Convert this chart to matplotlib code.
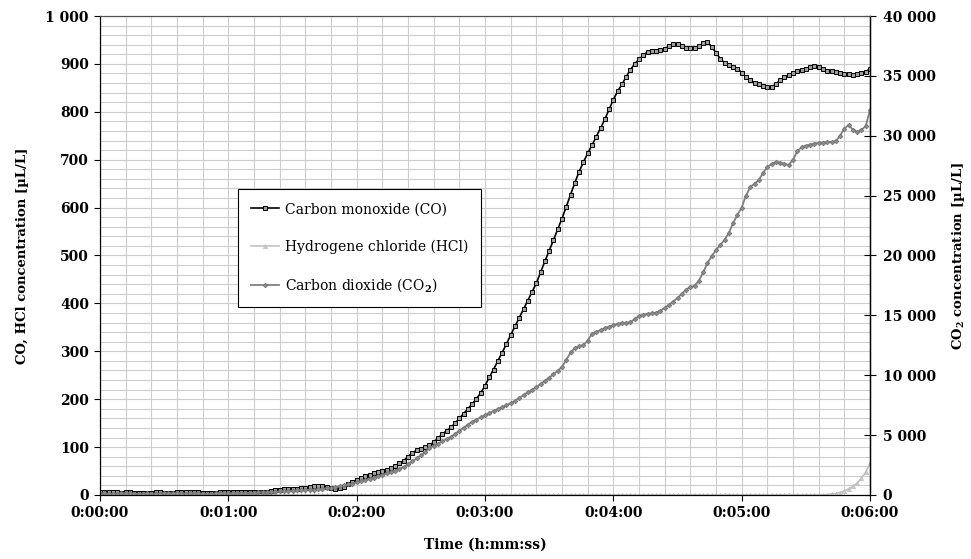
import numpy as np
import matplotlib
matplotlib.use("Agg")
import matplotlib.pyplot as plt
from matplotlib.ticker import MultipleLocator, FuncFormatter

plt.rcParams['font.family'] = 'DejaVu Serif'
plt.rcParams['font.weight'] = 'bold'
plt.rcParams['mathtext.fontset'] = 'dejavuserif'

step = 2  # seconds between readings

# CO [uL/L], left axis
co = [6, 6, 7, 6, 6, 5, 6, 6, 5, 5, 5, 5, 5, 6, 6, 5, 5, 5, 6, 7, 7, 7, 6, 6, 5, 5, 5, 5, 6, 6, 7,
      6, 6, 6, 7, 7, 6, 6, 6, 7, 8, 10, 11, 12, 12, 12, 13, 14, 15, 17, 19,
      19, 19, 17, 15, 13, 14, 17, 22, 27, 32,
      36, 39, 42, 45, 47, 50, 52, 56, 61, 66, 72, 80, 88, 93, 96, 100, 104, 110, 119, 127,
      134, 141, 150, 160, 170, 180, 190, 201, 213, 228,
      246, 262, 280, 297, 315, 334, 352, 370, 388, 406, 424, 442, 465, 488, 510,
      532, 555, 577, 602, 627, 652, 675, 695, 713, 730,
      748, 766, 784, 805, 825, 843, 857, 873, 888, 900,
      910, 918, 925, 927, 927, 928, 932, 937, 941, 941,
      937, 933, 933, 934, 937, 944, 945, 936, 923, 911,
      902, 897, 894, 890, 882, 873, 866, 861, 857, 854,
      851, 852, 858, 866, 872, 876, 881, 885, 888, 890,
      893, 896, 894, 889, 886, 885, 884, 882, 879, 878,
      877, 878, 881, 884, 890]

# HCl [uL/L], left axis
hcl = [0] * 169 + [0.5, 1, 2, 3, 5, 8, 13, 18, 25, 35, 48, 66]

# CO2 [uL/L], right axis
co2 = [120, 130, 120, 110, 120, 130, 140, 130, 120, 110, 120, 130, 120, 110, 120, 130,
       140, 150, 140, 130, 120, 130, 140, 130, 120, 110, 120, 130, 140, 150, 140,
       150, 160, 170, 180, 190, 200, 210, 220, 240, 260, 280, 300, 320, 340, 360, 380, 400, 420, 440, 450,
       480, 520, 560, 600, 660, 720, 800, 880, 960, 1050,
       1150, 1250, 1350, 1450, 1560, 1680, 1800, 1920, 2040, 2170,
       2350, 2550, 2800, 3050, 3300, 3600, 3900, 4110, 4290, 4480,
       4670, 4850, 5100, 5360, 5620, 5880, 6100, 6300, 6480, 6660,
       6850, 7010, 7170, 7330, 7500, 7660, 7870, 8110, 8350, 8580,
       8770, 9010, 9270, 9530, 9800, 10080, 10370, 10690, 11280, 11900,
       12270, 12420, 12520, 12900, 13450, 13620, 13780, 13920, 14050, 14180,
       14290, 14360, 14380, 14420, 14700, 14950, 15050, 15120, 15170, 15220,
       15400, 15620, 15880, 16150, 16450, 16800, 17150, 17370, 17480, 17900,
       18600, 19370, 19950, 20460, 20880, 21300, 21900, 22700, 23400, 24000,
       25000, 25700, 26000, 26300, 26900, 27400, 27650, 27800, 27750, 27650,
       27560, 28000, 28700, 29050, 29150, 29250, 29350, 29400, 29430, 29460,
       29480, 29550, 30000, 30600, 30900, 30500, 30300, 30500, 30800, 32150]

t_co = np.arange(len(co)) * step
t_hcl = np.arange(len(hcl)) * step
t_co2 = np.arange(len(co2)) * step


def hms(v, pos):
    v = int(round(v))
    return f"{v // 3600}:{v % 3600 // 60:02d}:{v % 60:02d}"


def thousands(v, pos):
    return f"{int(round(v)):,}".replace(",", " ")


fig = plt.figure(figsize=(9.71, 5.59), dpi=100)
ax = fig.add_axes([100 / 971, 1 - 495 / 559, 770 / 971, 479 / 559])
ax2 = ax.twinx()

l1, = ax.plot(t_co, co, color='black', lw=1.2, marker='s', ms=3.2, mfc='#a0a0a0',
              mec='black', mew=0.7, label='Carbon monoxide (CO)')
l2, = ax.plot(t_hcl, hcl, color='#c4c4c4', lw=1.2, marker='^', ms=3, mfc='#cccccc',
              mec='#bbbbbb', mew=0.5, label='Hydrogene chloride (HCl)')
l3, = ax2.plot(t_co2, co2, color='#808080', lw=1.3, marker='D', ms=2.4, mfc='#8a8a8a',
               mec='#707070', mew=0.5, label='Carbon dioxide (CO$_2$)')

ax.set_xlim(0, 360)
ax.set_ylim(0, 1000)
ax2.set_ylim(0, 40000)

ax.xaxis.set_major_locator(MultipleLocator(60))
ax.xaxis.set_minor_locator(MultipleLocator(12))
ax.yaxis.set_major_locator(MultipleLocator(100))
ax.yaxis.set_minor_locator(MultipleLocator(20))
ax2.yaxis.set_major_locator(MultipleLocator(5000))
ax.xaxis.set_major_formatter(FuncFormatter(hms))
ax.yaxis.set_major_formatter(FuncFormatter(thousands))
ax2.yaxis.set_major_formatter(FuncFormatter(thousands))

ax.grid(which='both', color='#cdcdcd', lw=0.8)
ax.set_axisbelow(True)
ax.tick_params(which='major', direction='out', length=4, width=0.8, labelsize=10, pad=4)
ax.tick_params(which='minor', length=0)
ax2.tick_params(axis='y', direction='inout', length=8, width=0.8, labelsize=10, pad=5)

for sp in ['left', 'bottom']:
    ax.spines[sp].set_color('black')
ax.spines['top'].set_color('#505050')
ax2.spines['top'].set_color('#505050')
ax2.spines['right'].set_color('black')
ax2.spines['right'].set_linewidth(1)

ax.set_xlabel('Time (h:mm:ss)', fontsize=10, fontweight='bold', labelpad=13)
ax.set_ylabel('CO, HCl concentration [µL/L]', fontsize=9.5, fontweight='bold', labelpad=12)
ax2.set_ylabel('CO$_\\mathbf{2}$ concentration [µL/L]', fontsize=9.5, fontweight='bold',
               rotation=90, labelpad=10)

leg = ax2.legend(handles=[l1, l2, l3], loc='upper left',
                 bbox_to_anchor=(238 / 971, 1 - 189 / 559), bbox_transform=fig.transFigure,
                 borderaxespad=0, fancybox=False, edgecolor='black', framealpha=1,
                 prop={'weight': 'normal', 'size': 10}, handlelength=2.0,
                 handletextpad=0.4, labelspacing=1.65, borderpad=0.95)
leg.get_frame().set_linewidth(0.8)

fig.savefig('out.png', dpi=100)
